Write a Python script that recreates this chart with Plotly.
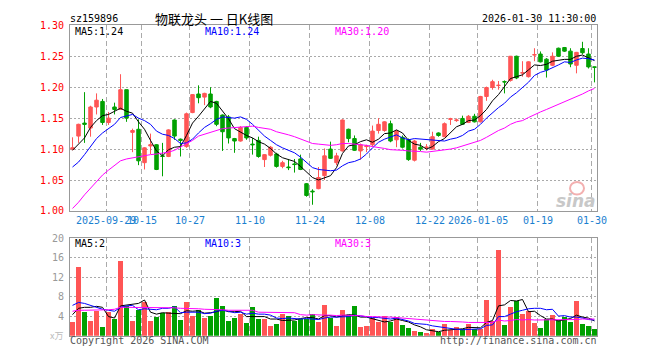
import plotly.graph_objects as go

W, H = 660, 360
RED = "#ff5555"
GREEN = "#00a000"

tick_idx = [6, 12, 20, 30, 40, 50, 60, 68, 78, 87]
tick_text = ["2025-09-29", "10-15", "10-27", "11-10", "11-24", "12-08", "12-22", "2026-01-05", "01-19", "01-30"]

opens = [1.100,1.121,1.142,1.134,1.168,1.177,1.143,1.168,1.164,1.196,
1.127,1.132,1.078,1.105,1.107,1.089,1.088,1.147,1.116,1.104,
1.159,1.189,1.184,1.189,1.177,1.155,1.152,1.117,1.113,1.135,
1.108,1.114,1.083,1.090,1.092,1.072,1.071,1.076,1.084,1.044,
1.032,1.036,1.057,1.100,1.078,1.097,1.132,1.117,1.097,1.104,
1.107,1.130,1.130,1.141,1.115,1.119,1.115,1.082,1.103,1.1026,
1.100,1.126,1.120,1.148,1.146,1.1495,1.143,1.153,1.144,1.185,
1.1995,1.2026,1.209,1.211,1.250,1.2229,1.217,1.252,1.2536,1.2453,
1.2354,1.263,1.2641,1.2583,1.2354,1.2625,1.2536,1.2328]
highs = [1.119,1.141,1.192,1.170,1.190,1.181,1.160,1.175,1.221,1.196,
1.133,1.148,1.103,1.125,1.108,1.110,1.132,1.148,1.117,1.159,
1.189,1.203,1.191,1.200,1.178,1.156,1.155,1.118,1.137,1.137,
1.118,1.120,1.092,1.105,1.094,1.081,1.084,1.084,1.091,1.045,
1.035,1.071,1.101,1.112,1.094,1.148,1.133,1.122,1.109,1.107,
1.138,1.150,1.145,1.146,1.131,1.122,1.117,1.115,1.110,1.108,
1.128,1.127,1.143,1.1505,1.1495,1.154,1.155,1.157,1.186,1.201,
1.212,1.210,1.211,1.2505,1.251,1.242,1.242,1.263,1.2578,1.247,
1.2563,1.264,1.265,1.263,1.257,1.2734,1.263,1.233]
lows = [1.098,1.110,1.110,1.120,1.156,1.139,1.139,1.156,1.164,1.144,
1.095,1.074,1.067,1.092,1.066,1.056,1.087,1.115,1.088,1.102,
1.158,1.174,1.171,1.166,1.137,1.097,1.109,1.094,1.112,1.115,
1.091,1.086,1.071,1.088,1.070,1.069,1.066,1.062,1.066,1.023,
1.010,1.035,1.050,1.084,1.074,1.096,1.111,1.097,1.083,1.095,
1.104,1.125,1.128,1.111,1.103,1.101,1.081,1.080,1.097,1.098,
1.099,1.120,1.119,1.139,1.144,1.139,1.142,1.143,1.143,1.178,
1.196,1.196,1.190,1.209,1.213,1.217,1.2156,1.242,1.240,1.2156,
1.234,1.249,1.257,1.2323,1.2224,1.253,1.2302,1.2078]
closes = [1.102,1.140,1.140,1.168,1.179,1.143,1.150,1.164,1.196,1.150,
1.130,1.081,1.102,1.107,1.067,1.088,1.131,1.121,1.114,1.157,
1.188,1.183,1.190,1.168,1.140,1.128,1.118,1.113,1.135,1.118,
1.107,1.088,1.091,1.103,1.072,1.078,1.070,1.075,1.067,1.025,
1.031,1.054,1.089,1.085,1.089,1.147,1.117,1.098,1.107,1.105,
1.129,1.140,1.144,1.113,1.129,1.103,1.083,1.113,1.100,1.1031,
1.120,1.122,1.141,1.149,1.147,1.140,1.153,1.144,1.185,1.1995,
1.209,1.2031,1.2085,1.250,1.215,1.2234,1.241,1.2526,1.241,1.2276,
1.250,1.250,1.2583,1.2375,1.2563,1.2557,1.2328,1.2323]
volumes = [2.8,14.1,4.9,3.1,5.1,1.7,4.8,3.5,15.3,6.0,
3.1,5.3,6.8,2.9,3.8,4.7,4.8,6.1,3.3,6.8,
4.0,5.3,3.6,4.0,7.7,6.1,2.9,3.7,4.4,2.5,
5.9,3.4,3.4,1.9,2.3,4.4,4.1,3.1,3.4,3.5,
4.5,2.7,6.3,3.7,1.9,5.3,4.2,6.0,1.7,1.9,
3.6,2.7,4.1,2.7,3.8,2.1,1.5,1.0,0.7,0.5,
1.3,0.7,2.3,1.1,1.7,1.3,2.3,1.4,1.4,7.3,
3.0,17.5,2.1,5.9,7.0,4.5,5.1,2.5,1.5,3.5,
4.3,3.2,3.9,2.7,7.0,2.3,1.9,1.3]

# moving-average lines as shown on the chart
ma5 = [1.098,1.108,1.118,1.135,1.146,1.154,1.156,1.161,1.166,1.161,
1.158,1.144,1.132,1.114,1.097,1.089,1.099,1.103,1.104,1.122,
1.142,1.153,1.166,1.177,1.174,1.162,1.149,1.133,1.127,1.122,
1.118,1.112,1.108,1.101,1.092,1.086,1.083,1.080,1.072,1.063,
1.054,1.050,1.053,1.057,1.070,1.093,1.105,1.107,1.112,1.115,
1.111,1.116,1.125,1.126,1.131,1.126,1.114,1.108,1.106,1.100,
1.104,1.112,1.117,1.127,1.136,1.140,1.146,1.147,1.154,1.164,
1.178,1.188,1.201,1.214,1.217,1.220,1.228,1.236,1.235,1.237,
1.242,1.244,1.245,1.245,1.250,1.252,1.248,1.243]
ma10 = [1.071,1.079,1.091,1.104,1.117,1.126,1.133,1.140,1.151,1.153,
1.156,1.150,1.146,1.140,1.129,1.124,1.122,1.117,1.109,1.110,
1.116,1.126,1.135,1.141,1.148,1.152,1.151,1.150,1.152,1.148,
1.140,1.130,1.121,1.114,1.107,1.102,1.098,1.094,1.087,1.078,
1.070,1.067,1.066,1.065,1.066,1.073,1.078,1.080,1.084,1.092,
1.102,1.111,1.116,1.119,1.123,1.118,1.115,1.117,1.116,1.116,
1.115,1.113,1.113,1.116,1.118,1.122,1.129,1.132,1.140,1.150,
1.159,1.167,1.174,1.184,1.191,1.199,1.208,1.219,1.224,1.227,
1.231,1.236,1.241,1.240,1.244,1.247,1.246,1.244]
ma30 = [1.004,1.014,1.026,1.037,1.048,1.058,1.066,1.074,1.081,1.084,
1.086,1.088,1.090,1.091,1.092,1.093,1.095,1.098,1.103,1.108,
1.114,1.121,1.124,1.128,1.131,1.133,1.134,1.135,1.135,1.137,
1.137,1.135,1.134,1.132,1.128,1.126,1.123,1.120,1.116,1.112,
1.109,1.108,1.107,1.106,1.107,1.109,1.109,1.108,1.108,1.106,
1.104,1.103,1.101,1.099,1.099,1.098,1.097,1.097,1.096,1.095,
1.096,1.097,1.098,1.100,1.102,1.105,1.107,1.110,1.114,1.119,
1.125,1.130,1.134,1.140,1.144,1.146,1.151,1.156,1.160,1.164,
1.168,1.172,1.176,1.180,1.184,1.189,1.194,1.198]
vma5 = [4.3,5.6,5.8,5.8,6.0,5.8,3.9,3.6,6.1,6.3,
6.5,6.6,7.3,4.8,4.4,4.7,4.6,4.5,4.5,5.1,
5.0,5.1,4.6,4.7,4.9,5.3,4.9,4.9,5.0,3.9,
3.9,4.0,3.9,3.4,3.4,3.1,3.2,3.2,3.5,3.7,
3.7,3.4,4.1,4.1,3.8,4.0,4.3,4.2,3.8,3.8,
3.5,3.2,2.8,3.0,3.4,3.1,2.8,2.2,1.8,1.2,
1.0,0.8,1.1,1.2,1.4,1.4,1.7,1.6,1.6,2.7,
3.1,6.1,6.3,7.2,7.1,7.4,4.9,5.0,4.1,3.4,
3.4,3.0,3.3,3.5,4.2,3.8,3.6,3.0]
vma10 = [6.2,6.8,6.6,6.2,5.8,5.4,5.2,5.0,5.8,6.1,
6.2,5.3,5.5,5.4,5.3,5.6,5.6,5.9,4.7,4.8,
4.8,4.8,4.5,4.6,5.0,5.2,5.0,4.7,4.8,4.4,
4.6,4.4,4.4,4.2,3.6,3.5,3.6,3.5,3.4,3.5,
3.4,3.3,3.6,3.8,3.8,3.8,3.9,4.2,4.0,3.8,
3.7,3.7,3.5,3.4,3.6,3.3,3.0,2.5,2.4,2.3,
2.0,1.8,1.7,1.5,1.3,1.2,1.3,1.3,1.4,2.1,
2.2,3.9,3.9,4.4,4.9,5.2,5.5,5.6,5.6,5.3,
5.4,4.0,4.1,3.8,3.8,3.6,3.3,3.2]
vma30 = [5.0,5.2,5.2,5.2,5.3,5.3,5.3,5.4,5.8,5.8,
5.8,5.8,5.8,5.7,5.7,5.7,5.7,5.7,5.6,5.6,
5.5,5.5,5.4,5.4,5.3,5.3,5.2,5.2,5.1,5.1,
5.2,4.8,4.8,4.8,4.7,4.8,4.7,4.7,4.3,4.2,
4.3,4.2,4.2,4.2,4.1,4.2,4.1,4.1,4.1,3.9,
3.9,3.8,3.8,3.8,3.7,3.5,3.5,3.4,3.3,3.2,
3.1,3.0,2.9,2.9,2.9,2.8,2.7,2.7,2.6,2.7,
2.7,3.2,3.0,3.1,3.3,3.2,3.3,3.2,3.2,3.2,
3.2,3.2,3.2,3.2,3.3,3.4,3.4,3.4]

n = len(closes)
xs = list(range(n))
vol_colors = [RED if c >= o else GREEN for o, c in zip(opens, closes)]

MONO = "DejaVu Sans Mono"
fig = go.Figure()
fig.add_trace(go.Candlestick(
    x=xs, open=opens, high=highs, low=lows, close=closes,
    increasing=dict(line=dict(color=RED, width=1), fillcolor=RED),
    decreasing=dict(line=dict(color=GREEN, width=1), fillcolor=GREEN),
    whiskerwidth=0, xaxis="x", yaxis="y", showlegend=False, hoverinfo="skip"))
for vals, col in [(ma5, "#000000"), (ma10, "#0000ff"), (ma30, "#ff00ff")]:
    fig.add_trace(go.Scatter(x=xs, y=vals, mode="lines", line=dict(color=col, width=1),
                             xaxis="x", yaxis="y", showlegend=False, hoverinfo="skip"))
fig.add_trace(go.Bar(x=xs, y=volumes, marker=dict(color=vol_colors, line=dict(width=0)),
                     width=0.83, xaxis="x2", yaxis="y2", showlegend=False, hoverinfo="skip"))
for vals, col in [(vma5, "#000000"), (vma10, "#0000ff"), (vma30, "#ff00ff")]:
    fig.add_trace(go.Scatter(x=xs, y=vals, mode="lines", line=dict(color=col, width=1),
                             xaxis="x2", yaxis="y2", showlegend=False, hoverinfo="skip"))

X0, X1 = 70, 597
xr = [-0.42, n - 1 + 0.42]
grid_x = [i - 0.42 for i in tick_idx]
common_x = dict(domain=[X0 / W, X1 / W], range=xr, tickmode="array", tickvals=grid_x,
                showticklabels=False, ticks="", showgrid=True, gridcolor="#aaaaaa",
                griddash="5px,3px", gridwidth=1, showline=True, mirror=True,
                linecolor="#999999", linewidth=1, zeroline=False, fixedrange=True)

fig.update_layout(
    width=W, height=H, margin=dict(l=0, r=0, t=0, b=0),
    paper_bgcolor="white", plot_bgcolor="white", boxgap=0.17, bargap=0,
    xaxis=dict(anchor="y", rangeslider=dict(visible=False), **common_x),
    xaxis2=dict(anchor="y2", matches="x", **common_x),
    yaxis=dict(domain=[1 - 212 / H, 1 - 20 / H], range=[1.0, 1.30], tickmode="array",
               tickvals=[1.00, 1.05, 1.10, 1.15, 1.20, 1.25, 1.30],
               ticktext=["1.00", "1.05", "1.10", "1.15", "1.20", "1.25", "1.30"],
               tickfont=dict(family=MONO, size=10, color="#ff0000"),
               ticks="outside", ticklen=3, tickcolor="rgba(0,0,0,0)",
               showgrid=True, gridcolor="#aaaaaa", griddash="2px,2px", showline=True, mirror=True,
               linecolor="#999999", linewidth=1, zeroline=False, anchor="x"),
    yaxis2=dict(domain=[1 - 341 / H, 1 - 240 / H], range=[0, 20], tickmode="array",
                tickvals=[4, 8, 12, 16, 20], ticktext=["4", "8", "12", "16", "20"],
                tickfont=dict(family=MONO, size=10, color="#999999"),
                ticks="outside", ticklen=3, tickcolor="rgba(0,0,0,0)",
                showgrid=True, gridcolor="#aaaaaa", griddash="2px,2px", showline=True, mirror=True,
                linecolor="#999999", linewidth=1, zeroline=False, anchor="x2"),
)


def ann(text, x, y, color="#000000", xanchor="left", size=10, family=MONO, **kw):
    fig.add_annotation(text=text, x=x / W, y=1 - y / H, xref="paper", yref="paper",
                       xanchor=xanchor, yanchor="middle", showarrow=False,
                       font=dict(family=family, size=size, color=color, **kw), borderpad=0)


ann("sz159896", 69, 13)
ann("物联龙头 一 日K线图", 214, 12.5, xanchor="center", size=13, family="Noto Sans CJK SC")
ann("2026-01-30 11:30:00", 597, 13, xanchor="right")
ann("MA5:1.24", 74, 26)
ann("MA10:1.24", 204, 26, color="#0000ff")
ann("MA30:1.20", 334, 26, color="#ff00ff")
ann("MA5:2", 74, 246)
ann("MA10:3", 204, 246, color="#0000ff")
ann("MA30:3", 334, 246, color="#ff00ff")
ann("Copyright 2026 SINA.COM", 69, 346, color="#555555")
ann("http://finance.sina.com.cn", 598, 346, color="#555555", xanchor="right")
ann("x万", 64, 341, color="#bbbbbb", xanchor="right", size=9, family="Noto Sans CJK SC")
for i, t in zip(tick_idx, tick_text):
    fig.add_annotation(text=t, x=i - 0.42, y=1 - 222 / H, xref="x", yref="paper",
                       xanchor="center", yanchor="middle", showarrow=False,
                       font=dict(family=MONO, size=10, color="#1a80d0"), borderpad=0)

# sina watermark
fig.add_shape(type="circle", xref="paper", yref="paper", x0=570 / W, x1=584 / W,
              y0=1 - 195 / H, y1=1 - 182 / H, line=dict(color="#f3b0b0", width=2))
ann("sina", 597, 202, color="#c8c8c8", xanchor="right", size=17, family="DejaVu Sans",
    style="italic", weight="bold")

fig.write_html("out.html")
